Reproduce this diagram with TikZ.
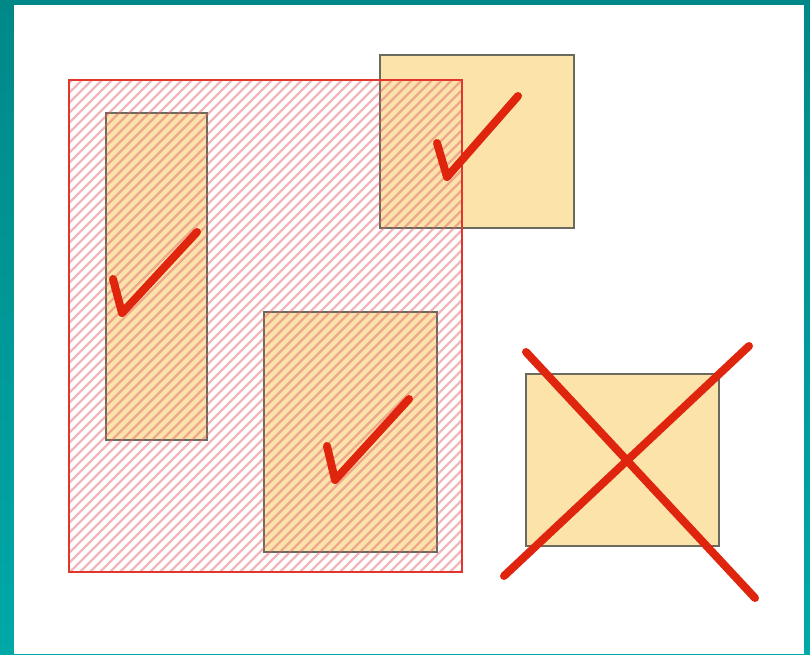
\documentclass[tikz,border=0pt]{standalone}
\usetikzlibrary{calc}
\definecolor{frameTop}{HTML}{008888}
\definecolor{frameBot}{HTML}{00A8A8}
\definecolor{boxfill}{HTML}{FCE3AA}
\definecolor{boxline}{HTML}{6A6A5E}
\definecolor{redline}{HTML}{E2352B}
\definecolor{markred}{HTML}{E0250F}
\definecolor{hatchcol}{HTML}{E0606A}
\tikzset{
  box/.style={fill=boxfill, draw=boxline, line width=1.5pt},
  redmark/.style={draw=markred, line width=8pt, line cap=round, line join=round},
  redframe/.style={draw=redline, line width=2pt},
  hatchline/.style={draw=hatchcol, line width=2.4pt, opacity=0.45}
}
\begin{document}
\begin{tikzpicture}[x=1pt,y=-1pt]
\useasboundingbox (0,0) rectangle (810,654);
% frame
\shade[top color=frameTop, bottom color=frameBot] (0,0) rectangle (810,654);
\fill[white] (14,5) rectangle (804,654);
% boxes
\draw[box] (106,113) rectangle (207,440);
\draw[box] (264,312) rectangle (437,552);
\draw[box] (380,55) rectangle (574,228);
\draw[box] (526,374) rectangle (719,546);
% hatching
\begin{scope}
  \clip (69,80) rectangle (462,572);
  \foreach \i in {-500,-490,...,470} {
    \draw[hatchline] (\i,572) -- ++(492,-492);
  }
\end{scope}
\draw[redframe] (69,80) rectangle (462,572);
% checks
\draw[redmark] (113,279) -- (122,313) -- (197,232);
\draw[redmark] (437,143) -- (447,177) -- (518,96);
\draw[redmark] (327,446) -- (335,480) -- (409,399);
% cross
\draw[redmark] (526,352) -- (755,598);
\draw[redmark] (504,576) -- (749,346);
\end{tikzpicture}
\end{document}
